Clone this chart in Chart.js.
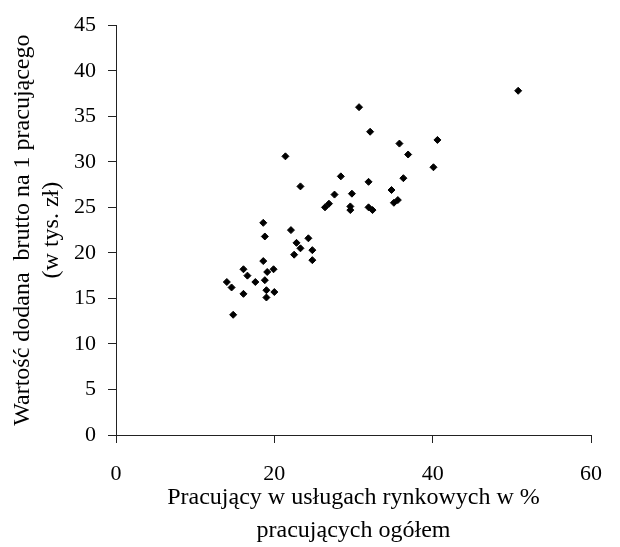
<!DOCTYPE html>
<html lang="pl">
<head>
    <meta charset="UTF-8">
    <title>Wartość dodana brutto a udział usług rynkowych</title>
    <script src="https://cdn.jsdelivr.net/npm/chart.js"></script>
    <style>
        body {
            margin: 0;
            padding: 0;
            background-color: #fff;
        }
        #chart-container {
            width: 620px;
            height: 547px;
        }
    </style>
</head>
<body>

<div id="chart-container">
    <canvas id="scatterChart" width="620" height="547"></canvas>
</div>

<script>
    // Pracujący w usługach rynkowych w % pracujących ogółem
    const xValues = [
        50.8, 40.6, 35.8, 36.9, 40.1, 36.3, 30.7, 32.1, 21.4, 28.4,
        23.3, 31.9, 34.8, 27.6, 29.8, 26.4, 26.9, 29.6, 29.6, 31.9,
        32.4, 35.1, 35.6, 22.1, 24.3, 22.8, 23.3, 24.8, 22.5, 24.8,
        19.9, 18.6, 18.8, 18.6, 16.1, 16.6, 17.6, 18.8, 19.1, 14.0,
        14.6, 16.1, 19.0, 20.0, 19.0, 14.8
    ];
    // Wartość dodana brutto na 1 pracującego (w tys. zł)
    const yValues = [
        37.8, 32.4, 32.0, 30.8, 29.4, 28.2, 36.0, 33.3, 30.6, 28.4,
        27.3, 27.8, 26.9, 26.4, 26.5, 25.0, 25.4, 25.1, 24.7, 25.0,
        24.7, 25.5, 25.8, 22.5, 21.6, 21.1, 20.5, 20.3, 19.8, 19.2,
        18.2, 23.3, 21.8, 19.1, 18.2, 17.5, 16.8, 17.0, 17.9, 16.8,
        16.2, 15.5, 15.9, 15.7, 15.1, 13.2
    ];
    const xTicks = [0, 20, 40, 60];
    const yTicks = [0, 5, 10, 15, 20, 25, 30, 35, 40, 45];

    const points = xValues.map((x, i) => ({ x: x, y: yValues[i] }));

    const serif = "'Liberation Serif', 'Times New Roman', serif";

    const ctx = document.getElementById('scatterChart').getContext('2d');
    const chart = new Chart(ctx, {
        type: 'scatter',
        data: {
            datasets: [{
                data: points,
                pointStyle: 'rectRot',
                pointRadius: 3.5,
                pointBorderWidth: 1,
                backgroundColor: '#000',
                borderColor: '#000'
            }]
        },
        options: {
            responsive: false,
            animation: false,
            devicePixelRatio: 1,
            layout: {
                padding: { left: 0, top: 22, right: 23, bottom: 0 }
            },
            plugins: {
                legend: { display: false },
                tooltip: { enabled: false }
            },
            scales: {
                x: {
                    type: 'linear',
                    min: 0,
                    max: 60,
                    afterBuildTicks: function(scale) {
                        scale.ticks = xTicks.map(v => ({ value: v }));
                    },
                    afterFit: function(scale) {
                        scale.height = 112;
                    },
                    ticks: {
                        color: '#000',
                        padding: 18,
                        maxRotation: 0,
                        font: { family: serif, size: 22 }
                    },
                    grid: {
                        drawOnChartArea: false,
                        tickLength: 8,
                        color: '#222'
                    },
                    border: { color: '#222', width: 1 },
                    title: {
                        display: true,
                        text: ['Pracujący w usługach rynkowych w %', 'pracujących ogółem'],
                        color: '#000',
                        padding: { top: 0, bottom: 0 },
                        font: { family: serif, size: 24, lineHeight: 1.375 }
                    }
                },
                y: {
                    type: 'linear',
                    min: 0,
                    max: 45,
                    afterBuildTicks: function(scale) {
                        scale.ticks = yTicks.map(v => ({ value: v }));
                    },
                    afterFit: function(scale) {
                        scale.width = 116;
                    },
                    ticks: {
                        color: '#000',
                        padding: 12,
                        font: { family: serif, size: 22 }
                    },
                    grid: {
                        drawOnChartArea: false,
                        tickLength: 8,
                        color: '#222'
                    },
                    border: { color: '#222', width: 1 },
                    title: {
                        display: true,
                        text: ['Wartość dodana  brutto na 1 pracującego', '(w tys. zł)'],
                        color: '#000',
                        padding: { top: 8, bottom: 0 },
                        font: { family: serif, size: 24, lineHeight: 1.21 }
                    }
                }
            }
        }
    });
</script>

</body>
</html>
